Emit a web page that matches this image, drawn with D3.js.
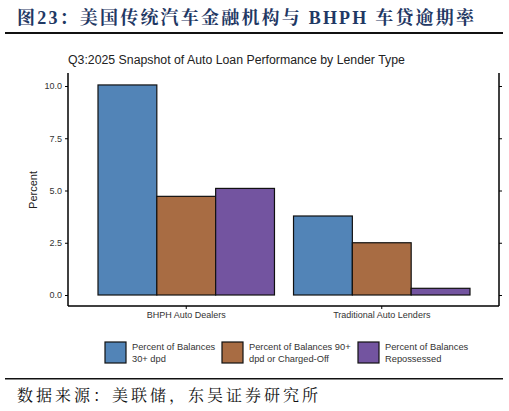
<!DOCTYPE html><html><head><meta charset="utf-8"><script src="https://cdn.jsdelivr.net/npm/d3@7"></script>
<style>body{margin:0;background:#fff}</style></head><body><svg id="c" width="509" height="411"></svg>
<script>
const categories=["BHPH Auto Dealers","Traditional Auto Lenders"];
const seriesNames=["Percent of Balances 30+ dpd","Percent of Balances 90+ dpd or Charged-Off","Percent of Balances Repossessed"];
const legendLines=[["Percent of Balances","30+ dpd"],["Percent of Balances 90+","dpd or Charged-Off"],["Percent of Balances","Repossessed"]];
const colors=["#5284B7","#A86C43","#7354A0"];
const values=[[10.05,4.72,5.1],[3.78,2.5,0.32]];
const yTicks=[0,2.5,5,7.5,10];
const svg=d3.select("#c");
svg.append("text").attr("x",17).attr("y",24).attr("font-family","Liberation Serif, Noto Serif CJK SC, Noto Sans CJK SC").attr("font-weight","bold").attr("font-size",18).attr("letter-spacing",2.2).attr("fill","#1F3864").text("图23：美国传统汽车金融机构与 BHPH 车贷逾期率");
svg.append("rect").attr("x",5).attr("y",32).attr("width",498).attr("height",2).attr("fill","#111");
svg.append("rect").attr("x",5).attr("y",378).attr("width",498).attr("height",1.5).attr("fill","#111");
svg.append("text").attr("x",17).attr("y",401).attr("font-family","Noto Serif CJK SC, Noto Sans CJK SC").attr("font-size",16).attr("letter-spacing",3).attr("fill","#111").text("数据来源：美联储，东吴证券研究所");
svg.append("text").attr("x",68).attr("y",64).attr("font-family","Liberation Sans, Arial").attr("font-size",12.3).attr("fill","#222").text("Q3:2025 Snapshot of Auto Loan Performance by Lender Type");
const L=68,R=499,T=73,B=306;
const y=d3.scaleLinear().domain([0,10]).range([295,86]);
const x0=d3.scaleBand().domain(categories).range([98,470]).paddingInner(19/195).paddingOuter(0);
const x1=d3.scaleBand().domain(d3.range(3)).range([0,x0.bandwidth()]);
svg.append("g").attr("transform",`translate(${L},0)`).call(d3.axisLeft(y).tickValues(yTicks).tickFormat(d3.format(".1f")).tickSize(3))
 .call(g=>{g.select(".domain").attr("d",`M0,${T}V${B}`).attr("stroke-width",1.5);g.selectAll("text").attr("font-size",9).attr("fill","#333").attr("font-family","Liberation Sans, Arial");});
svg.append("g").attr("transform",`translate(${R},0)`).call(d3.axisRight(y).tickValues(yTicks).tickFormat("").tickSize(3))
 .call(g=>g.select(".domain").attr("d",`M0,${T}V${B}`).attr("stroke-width",1.5));
svg.append("g").attr("transform",`translate(0,${B})`).call(d3.axisBottom(x0).tickSize(3))
 .call(g=>{g.select(".domain").attr("d",`M${L},0H${R}`).attr("stroke-width",1.5);g.selectAll("text").attr("font-size",9).attr("fill","#333").attr("font-family","Liberation Sans, Arial");});
svg.append("text").attr("transform","translate(37,190) rotate(-90)").attr("text-anchor","middle").attr("font-size",11).attr("font-family","Liberation Sans, Arial").attr("fill","#222").text("Percent");
categories.forEach((c,i)=>{values[i].forEach((v,j)=>{
 svg.append("rect").attr("x",x0(c)+x1(j)).attr("width",x1.bandwidth()).attr("y",y(v)).attr("height",y(0)-y(v)).attr("fill",colors[j]).attr("stroke","#111").attr("stroke-width",1.2);
});});
const lx=[105,222,358];
seriesNames.forEach((s,j)=>{
 svg.append("rect").attr("x",lx[j]).attr("y",342).attr("width",21).attr("height",21).attr("fill",colors[j]).attr("stroke","#111").attr("stroke-width",1.2);
 const t=svg.append("text").attr("x",lx[j]+27).attr("y",350).attr("font-size",9.3).attr("font-family","Liberation Sans, Arial").attr("fill","#333");
 legendLines[j].forEach((l,k)=>t.append("tspan").attr("x",lx[j]+27).attr("dy",k?12:0).text(l));
});
</script></body></html>
